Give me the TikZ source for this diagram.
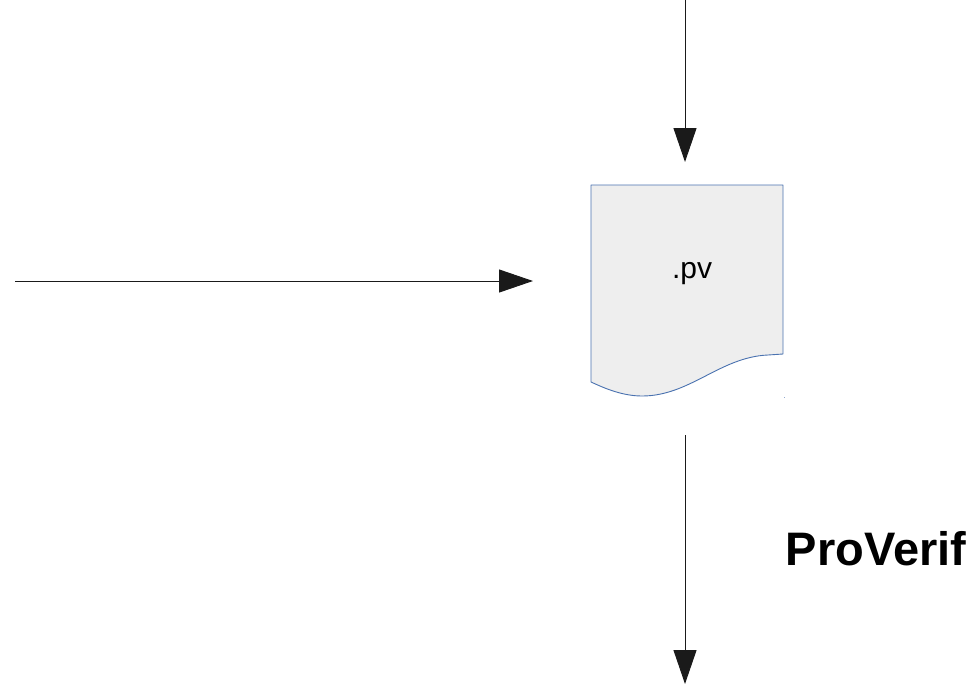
\documentclass[tikz,border=0pt]{standalone}
\usepackage{fontspec}
\setmainfont{Liberation Sans}
\usetikzlibrary{arrows.meta}
\definecolor{docfill}{HTML}{EEEEEE}
\definecolor{docline}{HTML}{4A72B0}
\definecolor{arrline}{HTML}{1A1A1A}
\tikzset{
  flow/.style={draw=arrline, line width=1pt, -{Triangle[length=34pt,width=23pt]}},
  docshape/.style={fill=docfill, draw=docline, line width=0.9pt, line join=round},
  doclabel/.style={font=\fontsize{30}{34}\selectfont, text=black, inner sep=0pt},
  toollabel/.style={font=\fontsize{47}{54}\selectfont\bfseries, text=black, inner sep=0pt, anchor=base}
}
\begin{document}
\begin{tikzpicture}[x=1pt,y=-1pt]
\useasboundingbox (0,0) rectangle (979,686);
% document shape
\draw[docshape] (591,185) -- (783,185) -- (783,354) -- (768,355)
  .. controls (720,357) and (690,396) .. (642,396)
  .. controls (620,396) and (600,386) .. (591,382) -- cycle;
\fill[docline!60] (783.5,396.5) rectangle (784.5,397.5);
\node[doclabel] (pv) at (692,274) {.pv};
\node[toollabel] (proverif) at (876,565) {ProVerif};
% connector end points
\coordinate (topin) at (685,0);
\coordinate (doctop) at (685,162);
\coordinate (leftin) at (15,281);
\coordinate (docleft) at (533,281);
\coordinate (docbottom) at (685,435);
\coordinate (out) at (685,684);
\draw[flow] (topin) -- (doctop);
\draw[flow] (leftin) -- (docleft);
\draw[flow] (docbottom) -- (out);
\end{tikzpicture}
\end{document}
